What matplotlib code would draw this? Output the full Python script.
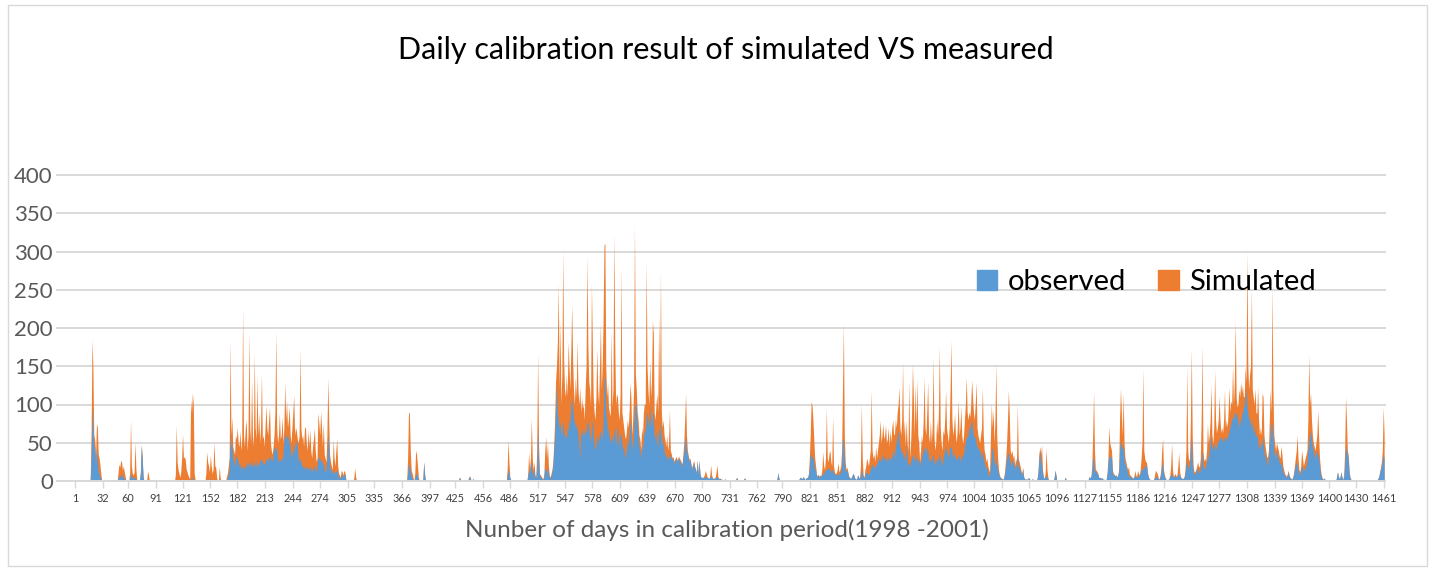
import matplotlib.pyplot as plt
from matplotlib.patches import Patch, Rectangle
import numpy as np

plt.rcParams['font.family'] = ['Lato', 'DejaVu Sans']

# x axis labels (first day of each month in the 1998-2001 period)
tick_days = [1, 32, 60, 91, 121, 152, 182, 213, 244, 274, 305, 335, 366, 397, 425, 456,
             486, 517, 547, 578, 609, 639, 670, 700, 731, 762, 790, 821, 851, 882, 912,
             943, 974, 1004, 1035, 1065, 1096, 1127, 1155, 1186, 1216, 1247, 1277, 1308,
             1339, 1369, 1400, 1430, 1461]
month_start = tick_days[:-1]

# daily observed flow, one row per month
observed_rows = [
    [0]*18 + [30, 97, 70, 40, 50, 20, 42, 30, 12, 10, 5, 2, 0],
    [0]*17 + [3, 6, 8, 5, 10, 4, 6, 3, 2, 0, 0],
    [0, 0, 3, 8, 8, 5, 4, 3, 5, 3, 0, 0, 0, 0, 10, 47, 30, 5, 0, 0, 0, 0, 2, 1, 0, 0, 0, 0, 0, 0, 0],
    [0]*22 + [1, 2, 1, 1, 0, 0, 1, 2],
    [1, 0, 1, 2, 1, 0, 0, 0, 0, 3, 2, 4, 3, 1, 0, 0, 0, 0, 0, 0, 0, 0, 0, 0, 0, 0, 1, 2, 3, 2, 1],
    [1, 1, 0, 2, 3, 1, 0, 0, 0, 0, 2, 0, 0, 0, 0, 0, 0, 0, 2, 4, 8, 15, 64, 40, 53, 30, 25, 18, 35, 30],
    [30, 25, 20, 22, 18, 15, 20, 18, 15, 20, 25, 18, 20, 25, 22, 20, 28, 18, 20, 25, 20, 18, 28, 20, 22, 25, 28, 30, 22, 25, 20],
    [25, 30, 28, 25, 30, 33, 28, 30, 25, 35, 45, 40, 45, 40, 30, 25, 28, 25, 30, 28, 35, 50, 62, 55, 58, 60, 55, 50, 45, 30, 35],
    [40, 50, 35, 54, 50, 45, 30, 25, 30, 25, 20, 18, 20, 15, 18, 20, 15, 18, 15, 20, 15, 12, 15, 18, 20, 15, 12, 20, 30, 32],
    [28, 25, 30, 20, 25, 15, 12, 15, 30, 62, 45, 20, 15, 12, 10, 15, 12, 10, 12, 15, 10, 5, 4, 3, 10, 8, 5, 8, 10, 2, 0],
    [0]*7 + [1, 3, 2],
    [],
    [0, 0, 0, 0, 0, 0, 10, 20, 22, 14, 6, 4, 2, 0, 3, 8, 10, 6, 2, 0, 0, 0, 0, 2, 25, 8, 0, 0, 0, 0, 0],
    [],
    [0, 0, 0, 0, 2, 5, 2, 0, 0, 0, 0, 0, 0, 0, 0, 4, 6, 3, 0, 2, 3],
    [0]*16 + [2] + [0]*10 + [5, 16, 10],
    [4, 2] + [0]*18 + [5, 15, 10, 20, 25, 12, 8, 15, 5, 3, 20],
    [71, 30, 8, 6, 5, 3, 2, 5, 17, 15, 12, 17, 10, 5, 3, 8, 12, 20, 40, 60, 97, 128, 90, 80, 70, 75, 65, 60, 80, 70],
    [58, 60, 55, 70, 65, 80, 75, 100, 110, 95, 85, 70, 80, 65, 75, 60, 50, 28, 60, 70, 58, 65, 60, 70, 60, 75, 80, 70, 60, 50, 70],
    [80, 60, 50, 40, 45, 60, 55, 50, 65, 64, 55, 60, 75, 136, 135, 90, 80, 60, 70, 58, 50, 55, 60, 50, 65, 70, 45, 60, 71, 55, 45],
    [60, 62, 50, 40, 45, 35, 30, 40, 55, 45, 62, 80, 70, 40, 50, 60, 90, 100, 101, 70, 60, 45, 40, 30, 50, 40, 55, 70, 60, 80],
    [90, 80, 70, 101, 80, 70, 90, 85, 60, 55, 65, 50, 45, 70, 60, 80, 50, 45, 58, 40, 35, 30, 35, 28, 30, 36, 30, 33, 28, 30, 23],
    [25, 30, 28, 25, 30, 28, 25, 22, 20, 30, 35, 50, 58, 40, 36, 30, 25, 28, 20, 15, 20, 25, 18, 15, 10, 27, 8, 27, 10, 5],
    [5, 4, 5, 4, 5, 6, 5, 4, 3, 5, 6, 5, 4, 3, 4, 3, 5, 6, 4, 3, 4, 2, 3, 1, 0, 1, 3, 1, 0, 0, 0],
    [0]*7 + [2, 4, 2] + [0]*6 + [3, 4, 1],
    [0]*7 + [1, 2] + [0]*13 + [3, 11, 4],
    [0]*6 + [2] + [0]*11 + [2, 3, 5, 4, 3, 6, 4, 2, 3, 5, 4, 8, 15],
    [32, 36, 30, 32, 24, 15, 14, 7, 6, 8, 5, 7, 6, 9, 9, 10, 12, 15, 15, 14, 17, 17, 15, 12, 15, 14, 10, 9, 9, 8],
    [9, 10, 8, 10, 12, 20, 54, 54, 30, 15, 12, 15, 10, 5, 4, 3, 5, 8, 10, 6, 3, 2, 4, 8, 5, 3, 8, 15, 10, 5, 4],
    [8, 10, 12, 10, 8, 12, 15, 20, 23, 18, 20, 15, 23, 20, 25, 28, 30, 28, 25, 30, 36, 30, 28, 32, 25, 30, 33, 25, 30, 28],
    [35, 40, 30, 36, 45, 50, 60, 67, 55, 45, 41, 35, 40, 30, 36, 25, 48, 30, 20, 25, 19, 25, 30, 35, 30, 25, 36, 30, 28, 25, 30],
    [19, 25, 30, 35, 40, 45, 40, 35, 45, 40, 30, 25, 30, 25, 30, 36, 28, 20, 25, 30, 25, 30, 36, 30, 25, 20, 30, 35, 40, 45, 40],
    [35, 30, 40, 45, 45, 40, 30, 35, 36, 30, 28, 30, 35, 30, 25, 30, 36, 30, 35, 45, 50, 60, 55, 60, 70, 67, 75, 80, 70, 60],
    [55, 60, 49, 45, 40, 45, 40, 35, 30, 40, 30, 25, 20, 15, 19, 12, 8, 6, 20, 30, 45, 40, 25, 20, 30, 20, 15, 10, 6, 4, 3],
    [3, 2, 5, 10, 20, 30, 36, 36, 30, 25, 20, 30, 20, 25, 15, 20, 18, 36, 20, 16, 15, 10, 8, 16, 5, 3, 2, 3, 2, 4],
    [4, 2, 1, 2, 3, 1, 2, 1, 0, 3, 10, 30, 40, 25, 20, 10, 5, 3, 5, 8, 5, 3, 1, 0, 0, 0, 0, 0, 4, 14, 8],
    [0]*9 + [5, 3] + [0]*4 + [2],
    [0, 0, 0, 0, 2, 6, 4, 6, 10, 30, 30, 15, 12, 12, 10, 8, 4, 5, 3, 5, 2, 3, 1, 0, 2, 8, 20, 34],
    [30, 32, 32, 10, 8, 8, 6, 8, 5, 8, 12, 40, 53, 47, 40, 47, 30, 22, 20, 15, 10, 8, 5, 6, 5, 4, 3, 5, 8, 6, 5],
    [5, 8, 6, 10, 16, 14, 16, 20, 16, 20, 22, 10, 5, 3, 2, 1, 0, 0, 2, 4, 5, 6, 4, 3, 2, 5, 10, 24, 20, 10],
    [6, 3, 2, 1, 2, 3, 5, 8, 10, 7, 5, 6, 7, 5, 6, 8, 10, 7, 5, 3, 4, 3, 5, 10, 20, 26, 20, 15, 20, 40, 59],
    [30, 12, 9, 10, 12, 15, 18, 12, 10, 15, 30, 40, 20, 15, 18, 20, 25, 32, 30, 40, 50, 59, 40, 45, 50, 45, 40, 45, 50, 55],
    [50, 58, 55, 58, 50, 55, 58, 50, 59, 55, 60, 65, 70, 75, 80, 85, 80, 88, 90, 88, 85, 80, 70, 75, 80, 85, 90, 95, 100, 110, 120],
    [100, 90, 80, 82, 75, 70, 79, 65, 60, 70, 58, 60, 55, 45, 40, 50, 45, 50, 58, 40, 30, 35, 25, 20, 30, 50, 60, 75, 75, 60, 40],
    [35, 30, 40, 35, 30, 25, 20, 25, 20, 12, 10, 8, 6, 5, 8, 12, 6, 4, 3, 2, 4, 8, 15, 20, 25, 20, 15, 10, 8, 15],
    [20, 18, 12, 15, 18, 20, 25, 40, 50, 60, 66, 55, 45, 40, 35, 30, 35, 40, 35, 30, 20, 10, 5, 3, 2, 4, 2, 1, 0, 0, 0],
    [0]*8 + [5, 12, 6, 3, 6, 12, 5, 2, 5, 20, 47, 40, 34, 30, 10, 4, 2],
    [0]*23 + [1, 3, 5, 10, 15, 20, 25, 35, 30],
]

# daily simulated flow, one row per month
simulated_rows = [
    [0]*18 + [60, 185, 150, 60, 55, 30, 75, 70, 35, 30, 20, 8, 0],
    [0]*17 + [10, 22, 18, 27, 25, 14, 20, 12, 6, 0, 0],
    [0, 0, 10, 80, 20, 10, 8, 12, 51, 15, 2, 0, 0, 0, 12, 47, 32, 6, 0, 0, 0, 0, 13, 8, 0, 0, 0, 0, 0, 0, 0],
    [0]*22 + [8, 73, 25, 15, 10, 5, 12, 30],
    [61, 30, 32, 28, 16, 12, 8, 5, 3, 106, 89, 115, 100, 10, 2, 0, 0, 0, 0, 0, 0, 0, 0, 0, 0, 0, 10, 38, 25, 20, 12],
    [33, 20, 10, 15, 51, 20, 18, 5, 0, 0, 19, 4, 0, 0, 0, 0, 0, 0, 6, 10, 20, 30, 184, 60, 84, 45, 40, 35, 60, 55],
    [70, 50, 45, 66, 40, 55, 226, 60, 45, 70, 80, 40, 60, 195, 70, 50, 132, 60, 45, 167, 70, 55, 136, 60, 90, 50, 70, 141, 55, 60, 45],
    [70, 99, 70, 60, 80, 97, 50, 40, 35, 45, 60, 90, 195, 70, 50, 60, 89, 55, 60, 84, 50, 70, 130, 80, 105, 70, 80, 97, 60, 50, 70],
    [90, 112, 60, 70, 65, 55, 50, 60, 173, 70, 55, 60, 45, 69, 71, 50, 40, 67, 45, 68, 40, 30, 45, 55, 69, 40, 25, 30, 89, 76],
    [60, 91, 70, 45, 76, 35, 30, 25, 60, 135, 80, 35, 25, 20, 15, 54, 30, 20, 40, 55, 20, 10, 8, 5, 14, 12, 8, 14, 12, 3, 0],
    [0]*7 + [4, 17, 6],
    [],
    [0, 0, 0, 0, 0, 0, 30, 91, 88, 40, 14, 10, 5, 0, 10, 40, 35, 20, 5, 0, 0, 0, 0, 2, 25, 8, 0, 0, 0, 0, 0],
    [],
    [0, 0, 0, 0, 2, 5, 2, 0, 0, 0, 0, 0, 0, 0, 0, 4, 7, 4, 0, 2, 3],
    [0]*16 + [2] + [0]*10 + [15, 54, 25],
    [5, 2] + [0]*18 + [10, 38, 15, 30, 82, 30, 15, 25, 8, 5, 40],
    [167, 50, 10, 8, 6, 4, 3, 10, 40, 58, 30, 50, 20, 8, 5, 10, 15, 25, 50, 80, 130, 150, 180, 258, 120, 210, 100, 140, 300, 160],
    [120, 110, 140, 110, 182, 150, 120, 170, 230, 160, 120, 100, 136, 110, 184, 120, 100, 123, 90, 110, 95, 100, 80, 120, 150, 293, 180, 130, 120, 100, 258],
    [180, 110, 90, 80, 110, 173, 120, 100, 149, 206, 120, 150, 210, 308, 311, 150, 110, 128, 97, 90, 85, 197, 97, 120, 324, 180, 100, 114, 110, 90, 80],
    [114, 280, 90, 80, 70, 60, 55, 65, 80, 70, 90, 128, 110, 60, 80, 120, 335, 140, 120, 90, 80, 60, 55, 40, 70, 60, 90, 101, 100, 287],
    [150, 120, 100, 158, 110, 130, 210, 193, 90, 80, 100, 114, 90, 215, 100, 274, 90, 70, 80, 60, 54, 45, 60, 40, 50, 93, 40, 36, 30, 32, 26],
    [28, 32, 30, 27, 33, 30, 28, 25, 22, 35, 50, 80, 114, 60, 40, 33, 28, 30, 22, 18, 22, 27, 20, 16, 12, 28, 9, 27, 10, 5],
    [5, 4, 6, 8, 14, 10, 5, 4, 3, 8, 21, 8, 4, 3, 4, 5, 12, 21, 6, 3, 4, 2, 3, 1, 0, 1, 3, 1, 0, 0, 0],
    [0]*7 + [3, 5, 2] + [0]*6 + [3, 4, 1],
    [0]*7 + [1, 2] + [0]*13 + [3, 11, 4],
    [0]*6 + [2] + [0]*11 + [2, 3, 5, 4, 3, 6, 4, 2, 3, 5, 4, 10, 30],
    [60, 104, 99, 80, 54, 30, 20, 8, 7, 9, 6, 8, 7, 15, 38, 20, 15, 30, 95, 30, 25, 36, 40, 25, 20, 84, 20, 12, 10, 10],
    [15, 24, 12, 15, 20, 40, 120, 206, 60, 25, 15, 18, 12, 6, 5, 3, 5, 8, 10, 6, 3, 2, 4, 8, 5, 3, 20, 101, 30, 8, 5],
    [15, 20, 30, 25, 20, 30, 40, 119, 40, 30, 35, 25, 45, 30, 40, 50, 60, 80, 50, 60, 75, 55, 60, 73, 50, 55, 70, 45, 67, 50],
    [70, 80, 60, 62, 80, 70, 90, 100, 123, 70, 60, 80, 154, 60, 80, 45, 80, 50, 40, 132, 30, 50, 88, 152, 110, 60, 127, 70, 134, 60, 50],
    [25, 40, 60, 50, 80, 136, 70, 60, 90, 130, 60, 50, 80, 50, 70, 162, 60, 40, 50, 80, 60, 90, 176, 70, 50, 40, 67, 60, 80, 119, 70],
    [60, 50, 70, 120, 184, 80, 60, 70, 88, 60, 50, 70, 106, 60, 70, 97, 60, 49, 60, 80, 100, 136, 90, 80, 90, 84, 100, 132, 110, 90],
    [80, 100, 130, 70, 60, 55, 50, 60, 70, 123, 60, 40, 35, 25, 30, 20, 15, 12, 60, 101, 70, 93, 50, 80, 154, 60, 30, 15, 8, 5, 4],
    [3, 2, 6, 15, 30, 50, 80, 119, 86, 40, 35, 40, 30, 35, 20, 30, 25, 101, 30, 25, 20, 14, 10, 18, 6, 3, 2, 3, 2, 4],
    [4, 2, 1, 2, 3, 1, 2, 1, 0, 3, 12, 35, 45, 35, 47, 15, 6, 3, 10, 43, 15, 5, 1, 0, 0, 0, 0, 0, 4, 14, 8],
    [0]*9 + [5, 3] + [0]*4 + [2],
    [0, 0, 0, 0, 2, 6, 4, 6, 20, 60, 117, 40, 15, 14, 12, 9, 4, 5, 3, 5, 2, 3, 1, 0, 2, 10, 30, 71],
    [50, 45, 40, 15, 10, 9, 7, 8, 5, 8, 15, 80, 121, 90, 60, 115, 50, 30, 25, 19, 15, 19, 8, 8, 6, 5, 4, 6, 14, 8, 6],
    [14, 10, 8, 15, 30, 50, 147, 40, 30, 25, 25, 12, 6, 3, 2, 1, 0, 0, 2, 8, 14, 12, 10, 5, 2, 6, 15, 40, 56, 15],
    [8, 4, 2, 1, 2, 3, 8, 20, 49, 15, 6, 8, 10, 6, 8, 20, 37, 12, 6, 3, 4, 3, 6, 15, 40, 149, 40, 26, 30, 80, 173],
    [60, 20, 12, 12, 15, 19, 25, 20, 18, 30, 80, 176, 40, 26, 30, 26, 40, 75, 50, 60, 80, 125, 60, 49, 70, 145, 80, 63, 70, 80],
    [111, 80, 63, 70, 63, 80, 119, 70, 80, 70, 90, 123, 90, 105, 100, 151, 100, 130, 210, 110, 97, 100, 120, 110, 130, 115, 125, 110, 110, 150, 130],
    [300, 150, 120, 140, 150, 252, 120, 110, 100, 121, 90, 88, 123, 80, 60, 70, 60, 115, 110, 60, 48, 40, 32, 31, 40, 80, 120, 90, 254, 120, 60],
    [50, 40, 50, 45, 40, 33, 30, 46, 35, 20, 15, 10, 8, 6, 9, 14, 8, 5, 4, 2, 5, 10, 20, 30, 40, 60, 30, 15, 12, 20],
    [40, 30, 20, 25, 30, 35, 40, 80, 165, 100, 115, 80, 60, 50, 45, 40, 50, 60, 93, 57, 30, 15, 8, 4, 2, 4, 2, 1, 0, 0, 0],
    [0]*8 + [5, 12, 6, 3, 6, 12, 5, 2, 8, 40, 110, 80, 40, 34, 12, 5, 2],
    [0]*23 + [1, 3, 6, 12, 18, 25, 40, 97, 60],
]

days = np.arange(1, 1462)
observed = np.zeros(len(days))
simulated = np.zeros(len(days))
for start, o, s in zip(month_start, observed_rows, simulated_rows):
    observed[start - 1:start - 1 + len(o)] = o
    simulated[start - 1:start - 1 + len(s)] = s

W, H = 1434, 571
fig = plt.figure(figsize=(W / 100, H / 100), dpi=100)
ax = fig.add_axes([57 / W, 90 / H, 1328 / W, 306 / H])

# stacked look of the excel area chart: orange behind, blue in front
ax.fill_between(days, 0, simulated, color='#ED7D31', lw=0)
ax.fill_between(days, 0, observed, color='#5B9BD5', lw=0)

ax.set_xlim(-19, 1462)
ax.set_ylim(0, 400)
ax.set_yticks(range(0, 401, 50))
ax.yaxis.grid(True, color='#d9d9d9', lw=1.4)
for gl in ax.get_ygridlines():
    gl.set_clip_on(False)
ax.set_axisbelow(True)

ax.set_xticks(tick_days)
ax.set_xticklabels([str(d) for d in tick_days])
ax.tick_params(axis='x', length=5, width=1, color='#d9d9d9', labelsize=7.8,
               labelcolor='#404040', pad=4)
ax.tick_params(axis='y', length=0, labelsize=16, labelcolor='#595959', pad=3)
for side in ['left', 'top', 'right']:
    ax.spines[side].set_visible(False)
ax.spines['bottom'].set_color('#d9d9d9')
ax.spines['bottom'].set_linewidth(1.4)

fig.text(726 / W, 1 - 50 / H, 'Daily calibration result of simulated VS measured',
         ha='center', va='center', fontsize=22, color='black')
fig.text(727 / W, 1 - 530 / H, 'Nunber of days in calibration period(1998 -2001)',
         ha='center', va='center', fontsize=17.5, color='#595959')

handles = [Patch(color='#5B9BD5', label='observed'), Patch(color='#ED7D31', label='Simulated')]
fig.legend(handles=handles, loc='center left', bbox_to_anchor=(977 / W, 1 - 282 / H),
           ncol=2, frameon=False, fontsize=21, handlelength=0.7, handleheight=0.7,
           handletextpad=0.35, columnspacing=1.1, borderpad=0, borderaxespad=0)

# chart border
fig.add_artist(Rectangle((8 / W, 5 / H), 1419 / W, 561 / H, transform=fig.transFigure,
                         fill=False, edgecolor='#d9d9d9', lw=1))

fig.savefig('out.png', dpi=100)
